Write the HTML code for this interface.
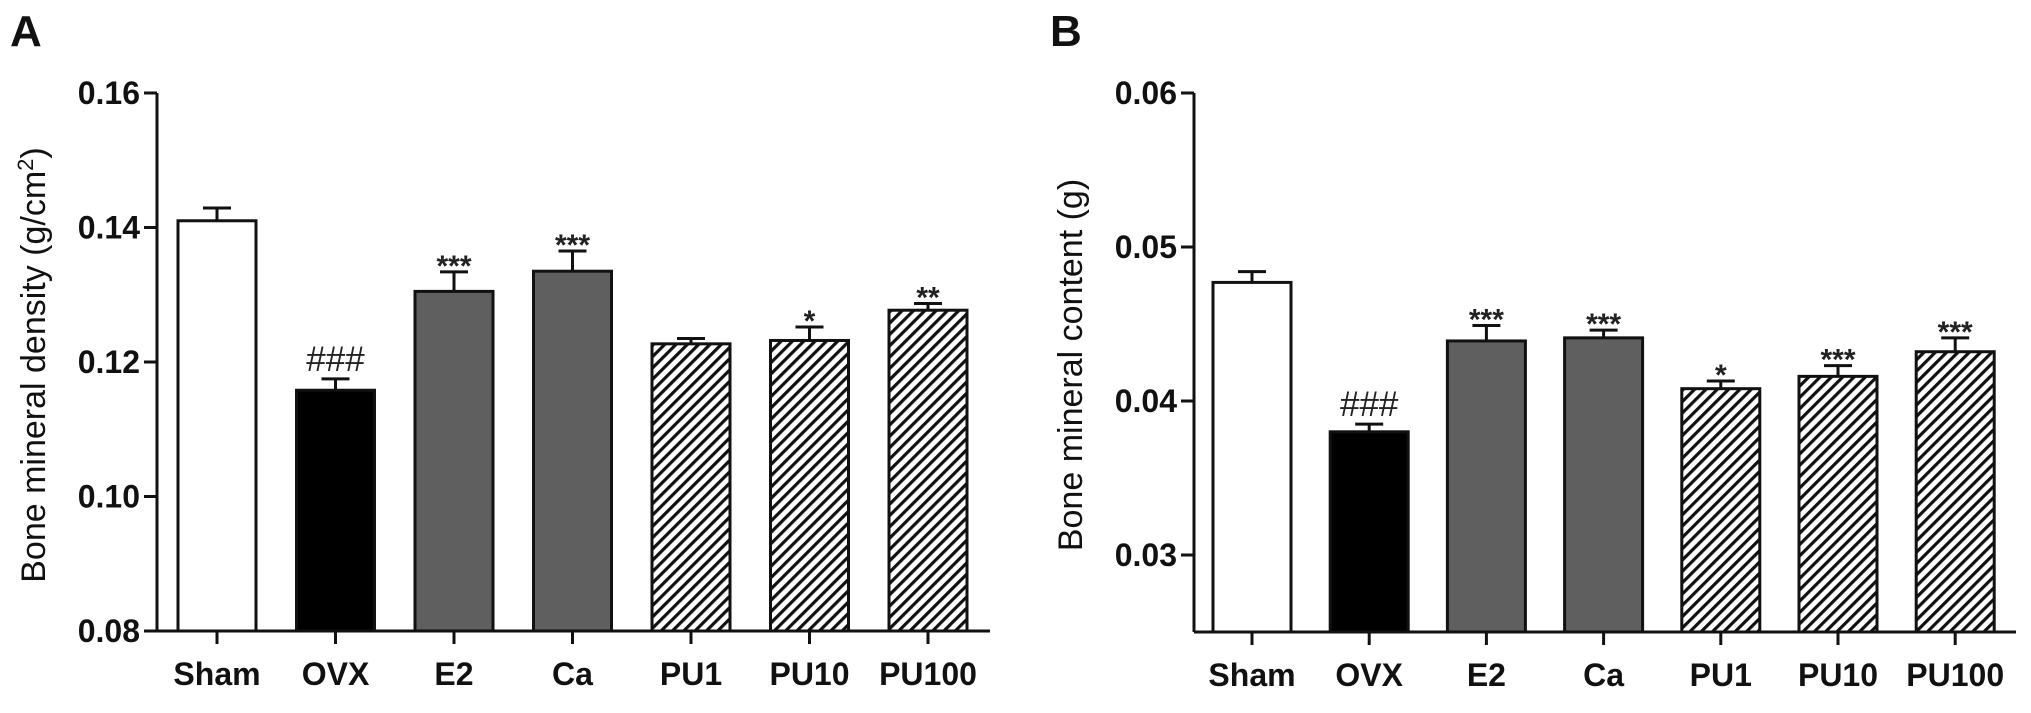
<!DOCTYPE html>
<html><head><meta charset="utf-8">
<style>
html,body{margin:0;padding:0;background:#fff;}
svg{display:block;font-family:"Liberation Sans",Arial,sans-serif;}
</style></head>
<body>
<svg id="chart" width="2031" height="713" viewBox="0 0 2031 713" xmlns="http://www.w3.org/2000/svg">
<defs>
<pattern id="hatch" patternUnits="userSpaceOnUse" width="8" height="8" patternTransform="rotate(45)">
<rect width="8" height="8" fill="#fff"/>
<rect x="0" y="0" width="3.2" height="8" fill="#111"/>
</pattern>
</defs>
<g id="panelA"></g>
<g id="panelB"></g>
</svg>
<script>
const categories = ["Sham","OVX","E2","Ca","PU1","PU10","PU100"];
const fills = ["#fff","#000","#5f5f5f","#5f5f5f","url(#hatch)","url(#hatch)","url(#hatch)"];
const bmdValues = [0.141,0.1158,0.1305,0.1335,0.1227,0.1232,0.1277];
const bmdErrors = [0.0019,0.0017,0.0029,0.0030,0.0008,0.0020,0.0010];
const bmdMarks = ["","###","***","***","","*","**"];
const bmdTicks = [0.08,0.10,0.12,0.14,0.16];
const bmcValues = [0.0477,0.0380,0.0439,0.0441,0.0408,0.0416,0.0432];
const bmcErrors = [0.0007,0.0005,0.0010,0.0005,0.0005,0.0007,0.0009];
const bmcMarks = ["","###","***","***","*","***","***"];
const bmcTicks = [0.03,0.04,0.05,0.06];

const NS="http://www.w3.org/2000/svg";
function mk(parent,tag,attrs,text){
  const e=document.createElementNS(NS,tag);
  for(const k in attrs)e.setAttribute(k,attrs[k]);
  if(text!==undefined)e.textContent=text;
  parent.appendChild(e);return e;
}
function panel(g,cfg){
  const y=v=>cfg.yBot-(v-cfg.vMin)/(cfg.vMax-cfg.vMin)*(cfg.yBot-cfg.yTop);
  const x=i=>cfg.x0+i*cfg.step;
  const st={stroke:"#111","stroke-width":3,fill:"none"};
  let t=mk(g,"text",{x:cfg.letterX,y:46,"font-size":44,"font-weight":"bold",fill:"#111"},cfg.letter);
  
  
  cfg.values.forEach((v,i)=>{
    const bw=78,cx=x(i),top=y(v),eTop=y(v+cfg.errors[i]);
    let ln=mk(g,"line",Object.assign({x1:cx,x2:cx,y1:top,y2:eTop},st));
    
    
    let cap=mk(g,"line",Object.assign({x1:cx-14,x2:cx+14,y1:eTop,y2:eTop},st));
    
    
    let r=mk(g,"rect",{x:cx-bw/2,y:top,width:bw,height:cfg.yBot-top,fill:fills[i],stroke:"#111","stroke-width":3});
    
    
    if(cfg.marks[i]){
      const hash=cfg.marks[i][0]==="#";
      let m=mk(g,"text",{x:cx,y:hash?eTop-8:eTop+4,"text-anchor":"middle","font-size":hash?35:30,"font-weight":hash?"normal":"bold",fill:"#222"},cfg.marks[i]);
      
      
    }
    let tk=mk(g,"line",Object.assign({x1:cx,x2:cx,y1:cfg.yBot,y2:cfg.yBot+13},st));
    
    
    let lb=mk(g,"text",{x:cx,y:cfg.yBot+54,"text-anchor":"middle","font-size":32,"font-weight":"bold",fill:"#111"},categories[i]);
    
    
  });
  let ya=mk(g,"line",Object.assign({x1:cfg.axisX,x2:cfg.axisX,y1:cfg.yTop,y2:cfg.yBot},st));
  
  
  let xa=mk(g,"line",Object.assign({x1:cfg.axisX,x2:cfg.axisEnd,y1:cfg.yBot,y2:cfg.yBot},st));
  
  
  cfg.ticks.forEach(v=>{
    const yy=y(v);
    let tk=mk(g,"line",Object.assign({x1:cfg.axisX-13,x2:cfg.axisX,y1:yy,y2:yy},st));
    
    
    let lb=mk(g,"text",{x:cfg.axisX-17,y:yy+11,"text-anchor":"end","font-size":32,"font-weight":"bold",fill:"#111"},v.toFixed(2));
    
    
  });
  let yt=mk(g,"text",{x:0,y:0,transform:`translate(${cfg.titleX},${cfg.titleY}) rotate(-90)`,"text-anchor":"middle","font-size":34,fill:"#111"});
  yt.innerHTML=cfg.title;
  
  
}
panel(document.getElementById("panelA"),{letter:"A",letterX:10,axisX:157,axisEnd:990,x0:217,step:118.5,yTop:93,yBot:631,vMin:0.08,vMax:0.16,
  values:bmdValues,errors:bmdErrors,marks:bmdMarks,ticks:bmdTicks,titleX:45,titleY:365,
  title:'Bone mineral density (g/cm<tspan baseline-shift="super" font-size="22">2</tspan>)'});
panel(document.getElementById("panelB"),{letter:"B",letterX:1050,axisX:1194,axisEnd:2016,x0:1252,step:117.2,yTop:93,yBot:632,vMin:0.025,vMax:0.06,
  values:bmcValues,errors:bmcErrors,marks:bmcMarks,ticks:bmcTicks,titleX:1082,titleY:365,
  title:'Bone mineral content (g)'});
</script>
</body></html>
